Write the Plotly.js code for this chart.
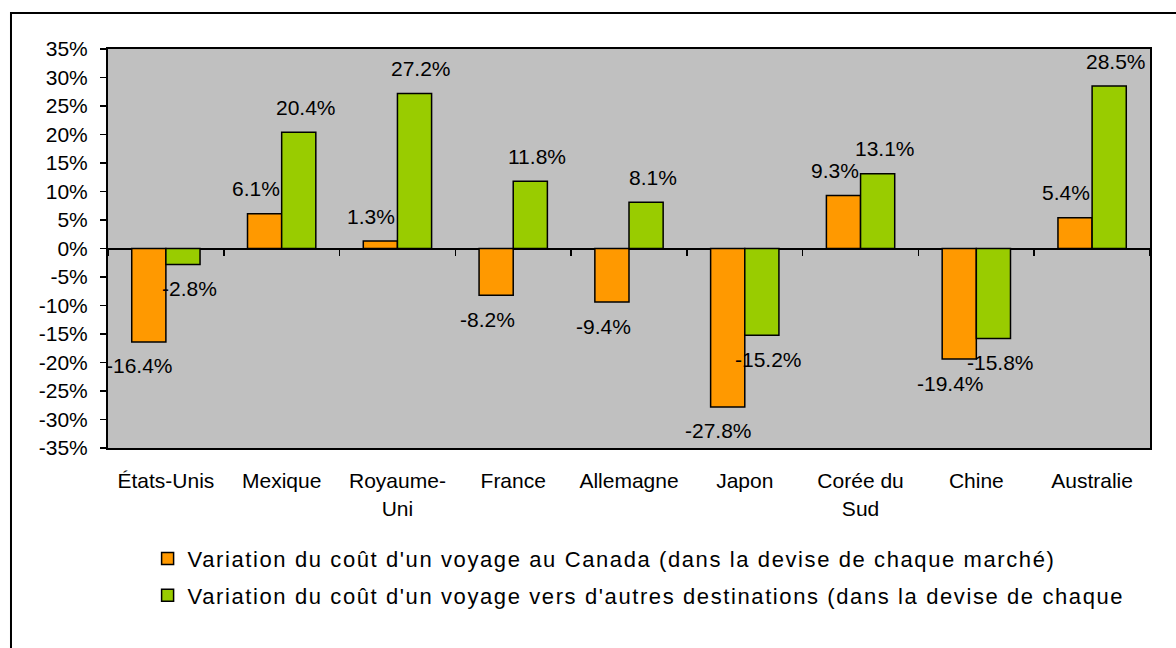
<!DOCTYPE html>
<html>
<head>
<meta charset="utf-8">
<script src="https://cdn.plot.ly/plotly-3.0.1.min.js"></script>
<style>
html, body { margin: 0; padding: 0; background: #ffffff; }
#chart { width: 1176px; height: 648px; }
.legendtext { letter-spacing: 1.6px; }
</style>
</head>
<body>
<div id="chart"></div>
<script>
const categories = ["États-Unis", "Mexique", "Royaume-<br>Uni", "France", "Allemagne", "Japon", "Corée du<br>Sud", "Chine", "Australie"];
const canadaValues = [-16.4, 6.1, 1.3, -8.2, -9.4, -27.8, 9.3, -19.4, 5.4];
const otherValues = [-2.8, 20.4, 27.2, 11.8, 8.1, -15.2, 13.1, -15.8, 28.5];
const seriesNames = [
  "Variation du coût d'un voyage au Canada (dans la devise de chaque marché)",
  "Variation du coût d'un voyage vers d'autres destinations (dans la devise de chaque"
];
const yTickValues = [-35, -30, -25, -20, -15, -10, -5, 0, 5, 10, 15, 20, 25, 30, 35];
const yTickLabels = yTickValues.map(v => v + "%");

const FONT = "Arial, 'Liberation Sans', Helvetica, sans-serif";
const ORANGE = "#ff9900";
const GREEN = "#99cc00";

const traces = [
  {
    type: "bar", x: categories, y: canadaValues, name: seriesNames[0],
    marker: { color: ORANGE, line: { color: "#000000", width: 1.5 } },
    legendgroup: "a", hoverinfo: "skip"
  },
  {
    type: "bar", x: categories, y: otherValues, name: seriesNames[1],
    marker: { color: GREEN, line: { color: "#000000", width: 1.5 } },
    legendgroup: "b", hoverinfo: "skip"
  },
  {
    type: "scatter", mode: "none", x: categories, y: categories.map(() => 0),
    xaxis: "x2", yaxis: "y", showlegend: false, hoverinfo: "skip"
  }
];

const annotations = [];
function addLabels(values, xshift) {
  values.forEach((v, i) => {
    annotations.push({
      x: categories[i], y: v, xref: "x", yref: "y",
      text: v.toFixed(1) + "%", showarrow: false,
      xshift: xshift, yshift: v >= 0 ? 25 : -24,
      font: { family: FONT, size: 21, color: "#000000" }
    });
  });
}
addLabels(canadaValues, -26);
addLabels(otherValues, 24);

const layout = {
  width: 1176, height: 648,
  margin: { l: 108, r: 26, t: 49, b: 200, autoexpand: false },
  paper_bgcolor: "#ffffff",
  plot_bgcolor: "#c0c0c0",
  font: { family: FONT, size: 21, color: "#000000" },
  barmode: "group",
  bargap: 0.41,
  bargroupgap: 0,
  showlegend: true,
  legend: {
    x: 0.038, y: -0.225, xanchor: "left", yanchor: "top",
    orientation: "v", tracegroupgap: 5,
    font: { family: FONT, size: 22, color: "#000000" },
    bgcolor: "rgba(0,0,0,0)"
  },
  xaxis: {
    type: "category", range: [-0.5, 8.5],
    showline: true, mirror: true, linecolor: "#000000", linewidth: 2,
    ticks: "", showgrid: false, zeroline: false,
    ticklabelstandoff: 13,
    tickfont: { family: FONT, size: 21, color: "#000000" }
  },
  xaxis2: {
    type: "category", overlaying: "x", matches: "x", anchor: "free", position: 0.5,
    showline: false, ticks: "outside", tickson: "boundaries", ticklen: 6, tickwidth: 1.5,
    tickcolor: "#000000", showticklabels: false, showgrid: false, zeroline: false
  },
  yaxis: {
    range: [-35, 35], tickmode: "array", tickvals: yTickValues, ticktext: yTickLabels,
    showline: true, mirror: true, linecolor: "#000000", linewidth: 2,
    ticks: "outside", ticklen: 6, tickwidth: 1.5, tickcolor: "#000000",
    showgrid: false, zeroline: true, zerolinecolor: "#000000", zerolinewidth: 2,
    ticklabelstandoff: 8,
    tickfont: { family: FONT, size: 21, color: "#000000" }
  },
  annotations: annotations,
  shapes: [
    {
      type: "rect", xref: "paper", yref: "paper",
      x0: -0.0931, x1: 1.2, y0: -1.0, y1: 1.0902,
      line: { color: "#000000", width: 2 }, fillcolor: "rgba(0,0,0,0)", layer: "below"
    }
  ]
};

Plotly.newPlot("chart", traces, layout, { staticPlot: true, displayModeBar: false });
</script>
</body>
</html>
